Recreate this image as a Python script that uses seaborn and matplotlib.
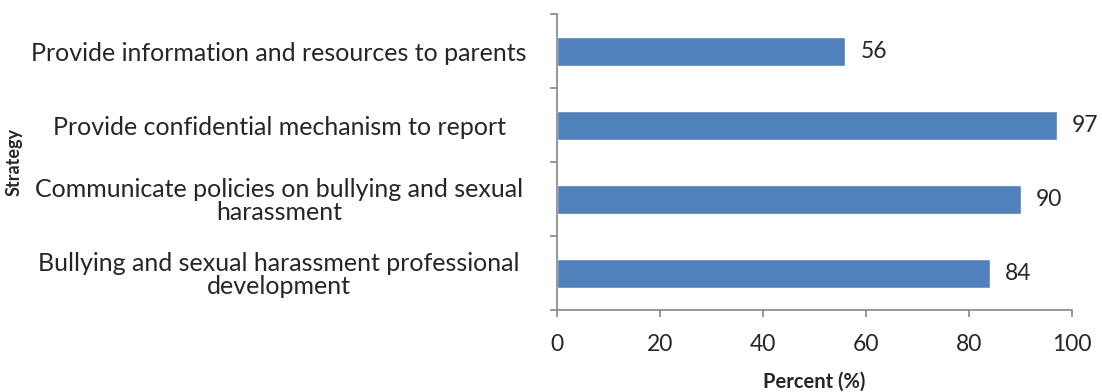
import matplotlib
matplotlib.use("Agg")
import matplotlib.pyplot as plt
import pandas as pd
import seaborn as sns
from matplotlib.ticker import FixedLocator, NullFormatter

strategies = [
    "Provide information and resources to parents",
    "Provide confidential mechanism to report",
    "Communicate policies on bullying and sexual\nharassment",
    "Bullying and sexual harassment professional\ndevelopment",
]
percents = [56, 97, 90, 84]
x_ticks = [0, 20, 40, 60, 80, 100]

df = pd.DataFrame({"Strategy": strategies, "Percent": percents})

sns.set_theme(style="white")
plt.rcParams["font.family"] = ["Lato", "DejaVu Sans"]

fig = plt.figure(figsize=(11.02, 3.92), dpi=100)
ax = fig.add_axes([0.5054, 0.209, 0.4675, 0.755])

sns.barplot(data=df, x="Percent", y="Strategy", orient="h", color="#4F81BD",
            saturation=1, width=0.39, ax=ax)

ax.set_xlim(0, 100)
ax.set_ylim(len(strategies) - 0.5, -0.5)
ax.set_xticks(x_ticks)
ax.set_xticklabels([str(t) for t in x_ticks], fontsize=16.5)

# category labels centred, tick marks at category boundaries
ax.set_yticks(range(len(strategies)))
ax.set_yticklabels(strategies, fontsize=18, ha="center", multialignment="center",
                   linespacing=1.0)
ax.tick_params(axis="y", which="major", length=0, pad=200)
ax.yaxis.set_minor_locator(FixedLocator([i - 0.5 for i in range(len(strategies) + 1)]))
ax.yaxis.set_minor_formatter(NullFormatter())
ax.tick_params(axis="y", which="minor", length=5, width=1.2, color="#868686", direction="out", left=True)
ax.tick_params(axis="x", length=5, width=1.2, color="#868686", direction="out", bottom=True, pad=12)

for i, v in enumerate(percents):
    ax.text(v + 3.0, i, str(v), va="center", ha="left", fontsize=16.5)

for s in ["top", "right"]:
    ax.spines[s].set_visible(False)
for s in ["left", "bottom"]:
    ax.spines[s].set_color("#868686")
    ax.spines[s].set_linewidth(1.2)

ax.set_xlabel("Percent (%)", fontsize=14.5, fontweight="bold", labelpad=12)
ax.set_ylabel("")
fig.text(0.013, 0.587, "Strategy", rotation=90, fontsize=13, fontweight="bold",
         ha="center", va="center")

fig.savefig("out.png", dpi=100)
